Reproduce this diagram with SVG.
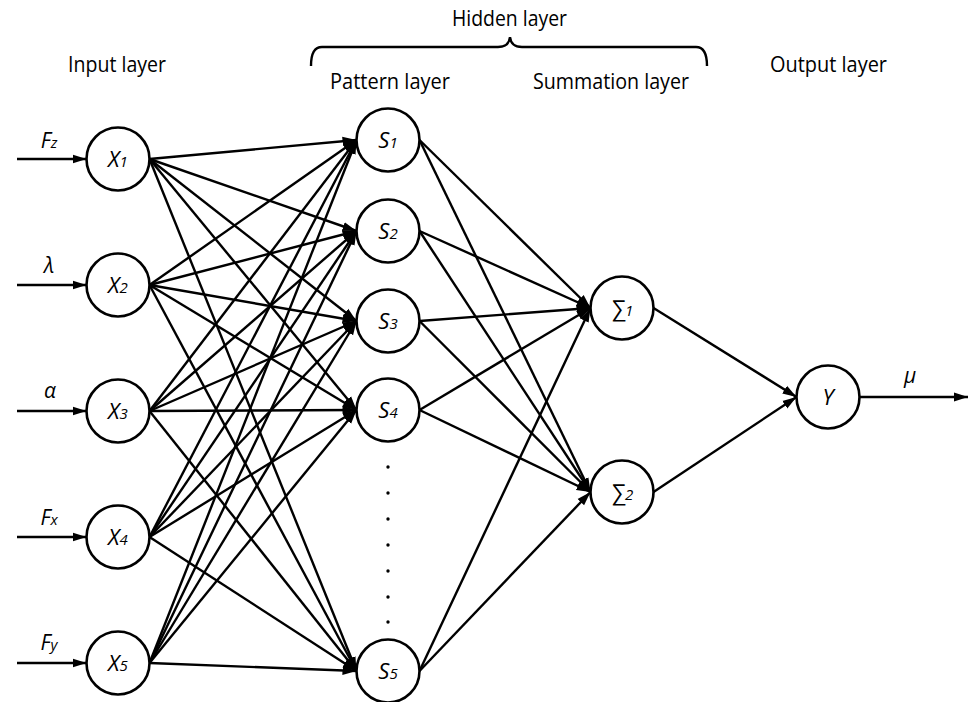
<svg xmlns="http://www.w3.org/2000/svg" width="972" height="702" viewBox="0 0 972 702">
<defs>
<marker id="ah" markerUnits="userSpaceOnUse" markerWidth="15" markerHeight="11" refX="14" refY="5.5" orient="auto">
<path d="M0,1 L14,5.5 L0,10 z" fill="#000"/>
</marker>
<style>
.node circle{fill:#fff;stroke:#000;stroke-width:2.6}
.lbl{font-family:"Open Sans","Liberation Sans",sans-serif;font-size:21px;fill:#000}
.nl{font-family:"Open Sans","Liberation Sans",sans-serif;font-style:italic;font-size:22px;fill:#000;text-anchor:middle}
.il{font-family:"Open Sans","Liberation Sans",sans-serif;font-style:italic;font-size:21px;fill:#000;text-anchor:middle}
.sub{font-size:15px}
#edges line,#edges path{stroke:#000;stroke-width:2.4;fill:none}
#edges line{marker-end:url(#ah)}
</style>
</defs>
<rect width="972" height="702" fill="#fff"/>

<g id="labels">
<text class="lbl" x="68" y="72" textLength="98" lengthAdjust="spacingAndGlyphs">Input layer</text>
<text class="lbl" x="452" y="26" textLength="115" lengthAdjust="spacingAndGlyphs">Hidden layer</text>
<text class="lbl" x="330" y="89" textLength="120" lengthAdjust="spacingAndGlyphs">Pattern layer</text>
<text class="lbl" x="533" y="89" textLength="156" lengthAdjust="spacingAndGlyphs">Summation layer</text>
<text class="lbl" x="770" y="72" textLength="117" lengthAdjust="spacingAndGlyphs">Output layer</text>
<text class="il" x="49" y="148">F<tspan class="sub">z</tspan></text>
<text class="il" x="49" y="273">λ</text>
<text class="il" x="50" y="398">α</text>
<text class="il" x="49" y="525">F<tspan class="sub">x</tspan></text>
<text class="il" x="49" y="650">F<tspan class="sub">y</tspan></text>
<text class="il" x="910" y="383">μ</text>
<g fill="#000">
<circle cx="388" cy="467" r="1.7"/><circle cx="388" cy="493" r="1.7"/><circle cx="388" cy="519" r="1.7"/><circle cx="388" cy="545" r="1.7"/><circle cx="388" cy="571" r="1.7"/><circle cx="388" cy="597" r="1.7"/><circle cx="388" cy="622" r="1.7"/>
</g>
</g>

<g id="edges">
<path d="M311,66 Q311,47 322,47 L498,47 Q509,47 510,37 Q511,47 522,47 L696,47 Q707,47 707,66"/>
<!-- inputs -->
<line x1="17" y1="159" x2="86.5" y2="159"/>
<line x1="17" y1="285" x2="86.5" y2="285"/>
<line x1="17" y1="411" x2="86.5" y2="411"/>
<line x1="17" y1="537" x2="86.5" y2="537"/>
<line x1="17" y1="663" x2="86.5" y2="663"/>
<!-- X to S -->
<line x1="149.5" y1="159" x2="356.5" y2="140"/>
<line x1="149.5" y1="159" x2="356.5" y2="231"/>
<line x1="149.5" y1="159" x2="356.5" y2="321"/>
<line x1="149.5" y1="159" x2="356.5" y2="410"/>
<line x1="149.5" y1="159" x2="356.5" y2="671"/>
<line x1="149.5" y1="285" x2="356.5" y2="140"/>
<line x1="149.5" y1="285" x2="356.5" y2="231"/>
<line x1="149.5" y1="285" x2="356.5" y2="321"/>
<line x1="149.5" y1="285" x2="356.5" y2="410"/>
<line x1="149.5" y1="285" x2="356.5" y2="671"/>
<line x1="149.5" y1="411" x2="356.5" y2="140"/>
<line x1="149.5" y1="411" x2="356.5" y2="231"/>
<line x1="149.5" y1="411" x2="356.5" y2="321"/>
<line x1="149.5" y1="411" x2="356.5" y2="410"/>
<line x1="149.5" y1="411" x2="356.5" y2="671"/>
<line x1="149.5" y1="537" x2="356.5" y2="140"/>
<line x1="149.5" y1="537" x2="356.5" y2="231"/>
<line x1="149.5" y1="537" x2="356.5" y2="321"/>
<line x1="149.5" y1="537" x2="356.5" y2="410"/>
<line x1="149.5" y1="537" x2="356.5" y2="671"/>
<line x1="149.5" y1="663" x2="356.5" y2="140"/>
<line x1="149.5" y1="663" x2="356.5" y2="231"/>
<line x1="149.5" y1="663" x2="356.5" y2="321"/>
<line x1="149.5" y1="663" x2="356.5" y2="410"/>
<line x1="149.5" y1="663" x2="356.5" y2="671"/>
<!-- S to Sigma -->
<line x1="419.5" y1="140" x2="590.5" y2="308"/>
<line x1="419.5" y1="140" x2="590.5" y2="492"/>
<line x1="419.5" y1="231" x2="590.5" y2="308"/>
<line x1="419.5" y1="231" x2="590.5" y2="492"/>
<line x1="419.5" y1="321" x2="590.5" y2="308"/>
<line x1="419.5" y1="321" x2="590.5" y2="492"/>
<line x1="419.5" y1="410" x2="590.5" y2="308"/>
<line x1="419.5" y1="410" x2="590.5" y2="492"/>
<line x1="419.5" y1="671" x2="590.5" y2="308"/>
<line x1="419.5" y1="671" x2="590.5" y2="492"/>
<!-- Sigma to Y -->
<line x1="653.5" y1="308" x2="796.5" y2="397"/>
<line x1="653.5" y1="492" x2="796.5" y2="397"/>
<!-- output -->
<line x1="859.5" y1="397" x2="968" y2="397"/>
</g>

<g id="X1" class="node"><circle cx="118" cy="159" r="31.5"/><text class="nl" x="118" y="167">X<tspan class="sub">1</tspan></text></g>
<g id="X2" class="node"><circle cx="118" cy="285" r="31.5"/><text class="nl" x="118" y="293">X<tspan class="sub">2</tspan></text></g>
<g id="X3" class="node"><circle cx="118" cy="411" r="31.5"/><text class="nl" x="118" y="419">X<tspan class="sub">3</tspan></text></g>
<g id="X4" class="node"><circle cx="118" cy="537" r="31.5"/><text class="nl" x="118" y="545">X<tspan class="sub">4</tspan></text></g>
<g id="X5" class="node"><circle cx="118" cy="663" r="31.5"/><text class="nl" x="118" y="671">X<tspan class="sub">5</tspan></text></g>

<g id="S1" class="node"><circle cx="388" cy="140" r="31.5"/><text class="nl" x="388" y="148">S<tspan class="sub">1</tspan></text></g>
<g id="S2" class="node"><circle cx="388" cy="231" r="31.5"/><text class="nl" x="388" y="239">S<tspan class="sub">2</tspan></text></g>
<g id="S3" class="node"><circle cx="388" cy="321" r="31.5"/><text class="nl" x="388" y="329">S<tspan class="sub">3</tspan></text></g>
<g id="S4" class="node"><circle cx="388" cy="410" r="31.5"/><text class="nl" x="388" y="418">S<tspan class="sub">4</tspan></text></g>
<g id="S5" class="node"><circle cx="388" cy="671" r="31.5"/><text class="nl" x="388" y="679">S<tspan class="sub">5</tspan></text></g>

<g id="Sum1" class="node"><circle cx="622" cy="308" r="31.5"/><text class="nl" x="622" y="316">∑<tspan class="sub">1</tspan></text></g>
<g id="Sum2" class="node"><circle cx="622" cy="492" r="31.5"/><text class="nl" x="622" y="500">∑<tspan class="sub">2</tspan></text></g>

<g id="Y" class="node"><circle cx="828" cy="397" r="31.5"/><text class="nl" x="828" y="405">Y</text></g>
</svg>
